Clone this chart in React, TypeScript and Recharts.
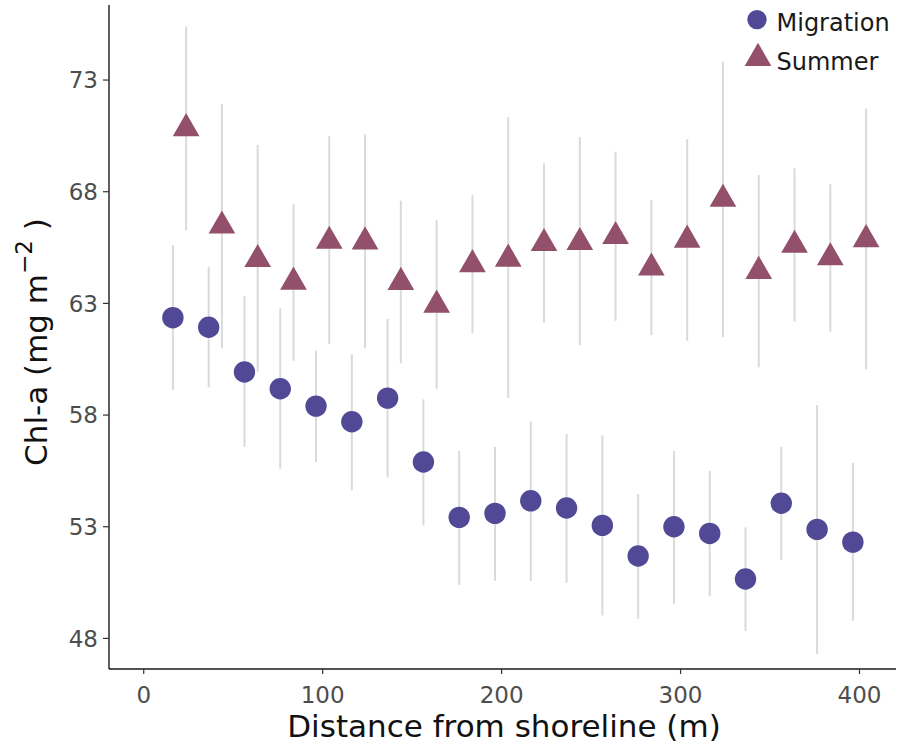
import { ScatterChart, Scatter, XAxis, YAxis, ErrorBar, Legend } from 'recharts';

const distances = [20, 40, 60, 80, 100, 120, 140, 160, 180, 200, 220, 240, 260, 280, 300, 320, 340, 360, 380, 400];
const dodge = 3.7;

const migrationMean = [62.36, 61.93, 59.93, 59.18, 58.4, 57.7, 58.76, 55.9, 53.42, 53.6, 54.16, 53.84, 53.06, 51.69, 53.0, 52.7, 50.66, 54.05, 52.88, 52.31];
const migrationLow = [59.12, 59.24, 56.58, 55.6, 55.9, 54.64, 55.21, 53.06, 50.4, 50.58, 50.58, 50.49, 49.03, 48.88, 49.54, 49.89, 48.34, 51.51, 47.3, 48.79];
const migrationHigh = [65.61, 64.64, 63.33, 62.78, 60.88, 60.73, 62.31, 58.7, 56.4, 56.58, 57.72, 57.15, 57.09, 54.46, 56.4, 55.5, 52.97, 56.58, 58.45, 55.86];

const summerMean = [70.83, 66.47, 64.97, 63.96, 65.79, 65.76, 63.95, 62.93, 64.74, 64.99, 65.69, 65.73, 66.0, 64.59, 65.84, 67.67, 64.44, 65.61, 65.05, 65.86];
const summerLow = [66.28, 60.99, 59.94, 60.43, 61.18, 60.99, 60.32, 59.18, 61.66, 58.76, 62.13, 61.13, 62.22, 61.58, 61.33, 61.48, 60.14, 62.18, 61.73, 60.05];
const summerHigh = [75.39, 71.93, 70.09, 67.45, 70.49, 70.57, 67.6, 66.73, 67.85, 71.33, 69.27, 70.44, 69.79, 67.63, 70.35, 73.82, 68.75, 69.05, 68.34, 71.73];

const xTicks = [0, 100, 200, 300, 400];
const yTicks = [48, 53, 58, 63, 68, 73];

const FONT = '"DejaVu Sans", sans-serif';
const MIG_COLOR = '#514896';
const SUM_COLOR = '#92506a';
const BAR_COLOR = '#dadada';

const build = (mean: number[], low: number[], high: number[], offset: number) =>
  distances.map((d, i) => ({ x: d + offset, mean: mean[i], low: low[i], high: high[i] }));

const migration = build(migrationMean, migrationLow, migrationHigh, -dodge);
const summer = build(summerMean, summerLow, summerHigh, dodge);

const errDelta = (p: any) => [p.mean - p.low, p.high - p.mean];

const Circle = (props: any) => <circle cx={props.cx} cy={props.cy} r={10.7} fill={MIG_COLOR} />;

const Triangle = (props: any) => {
  const { cx, cy } = props;
  const s = 26.7;
  const h = (s * Math.sqrt(3)) / 2;
  return (
    <polygon
      points={`${cx},${cy - (2 * h) / 3} ${cx + s / 2},${cy + h / 3} ${cx - s / 2},${cy + h / 3}`}
      fill={SUM_COLOR}
    />
  );
};

const renderLegend = () => {
  const s = 26.7;
  const h = (s * Math.sqrt(3)) / 2;
  return (
    <svg width={159} height={80} style={{ display: 'block' }}>
      <circle cx={17} cy={19.6} r={9.7} fill={MIG_COLOR} />
      <text x={36.5} y={31} fontFamily={FONT} fontSize={24} fill="#1a1a1a">Migration</text>
      <polygon
        points={`18,${58.2 - (2 * h) / 3} ${18 + s / 2},${58.2 + h / 3} ${18 - s / 2},${58.2 + h / 3}`}
        fill={SUM_COLOR}
      />
      <text x={36.5} y={69.5} fontFamily={FONT} fontSize={24} fill="#1a1a1a">Summer</text>
    </svg>
  );
};

const YTitle = ({ viewBox }: any) => {
  const x = viewBox.x + 47;
  const y = viewBox.y + viewBox.height / 2 + 5;
  return (
    <text x={x} y={y} transform={`rotate(-90, ${x}, ${y})`} textAnchor="middle" fontFamily={FONT} fontSize={31} fill="#111">
      Chl-a (mg m<tspan dy={-15} fontSize={23}>−2</tspan>
      <tspan dy={15}> )</tspan>
    </text>
  );
};

const XTitle = ({ viewBox }: any) => (
  <text x={viewBox.x + viewBox.width / 2 + 1.5} y={viewBox.y + 67.7} textAnchor="middle" fontFamily={FONT} fontSize={31} fill="#111">
    Distance from shoreline (m)
  </text>
);

export default function App() {
  return (
    <div style={{ position: 'absolute', left: 0, top: 0, width: 899, height: 753, background: '#fff' }}>
      <ScatterChart width={899} height={753} margin={{ top: 5, right: 3, bottom: 0, left: 0 }}>
        <XAxis
          type="number"
          dataKey="x"
          domain={[-19.4, 420.4]}
          ticks={xTicks}
          allowDataOverflow
          height={84}
          tickSize={5}
          tickMargin={13}
          axisLine={{ stroke: '#1a1a1a', strokeWidth: 1.4 }}
          tickLine={{ stroke: '#333', strokeWidth: 1.2 }}
          tick={{ fill: '#4d4d4d', fontSize: 23, fontFamily: FONT }}
          label={{ content: XTitle }}
        />
        <YAxis
          type="number"
          dataKey="mean"
          domain={[46.63, 76.36]}
          ticks={yTicks}
          allowDataOverflow
          width={109}
          tickSize={6}
          tickMargin={5}
          axisLine={{ stroke: '#1a1a1a', strokeWidth: 1.4 }}
          tickLine={{ stroke: '#333', strokeWidth: 1.2 }}
          tick={{ fill: '#4d4d4d', fontSize: 23, fontFamily: FONT }}
          label={{ content: YTitle }}
        />
        <Scatter name="Migration" data={migration} shape={Circle} isAnimationActive={false}>
          <ErrorBar dataKey={errDelta} direction="y" width={0} stroke={BAR_COLOR} strokeWidth={2} isAnimationActive={false} />
        </Scatter>
        <Scatter name="Summer" data={summer} shape={Triangle} isAnimationActive={false}>
          <ErrorBar dataKey={errDelta} direction="y" width={0} stroke={BAR_COLOR} strokeWidth={2} isAnimationActive={false} />
        </Scatter>
        <Legend
          content={renderLegend}
          layout="vertical"
          align="center"
          verticalAlign="middle"
          wrapperStyle={{ position: 'absolute', left: 740, top: 0, width: 159, height: 80 }}
        />
      </ScatterChart>
    </div>
  );
}
